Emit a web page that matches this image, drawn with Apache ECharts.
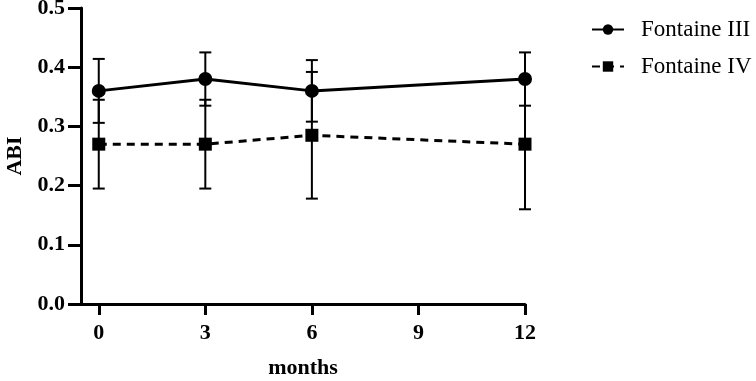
<!DOCTYPE html>
<html>
<head>
<meta charset="utf-8">
<script src="https://cdn.jsdelivr.net/npm/echarts@6/dist/echarts.min.js"></script>
<style>
  html, body { margin: 0; padding: 0; background: #fff; }
  #chart { width: 756px; height: 381px; }
</style>
</head>
<body>
<div id="chart"></div>
<script>
// data
const months = [0, 3, 6, 12];
const xTicks = [0, 3, 6, 9, 12];

const f3Mean = [0.36, 0.38, 0.36, 0.38];
const f3Err = [0.054, 0.045, 0.052, 0.045];

const f4Mean = [0.27, 0.27, 0.285, 0.27];
const f4Err = [0.075, 0.075, 0.107, 0.11];

const serif = 'Liberation Serif';

function errRows(mean, err) {
    return months.map((m, i) => [m, mean[i] - err[i], mean[i] + err[i]]);
}

function renderErr(params, api) {
    const x = api.value(0);
    const lo = api.coord([x, api.value(1)]);
    const hi = api.coord([x, api.value(2)]);
    const hw = 6;
    const style = { stroke: '#000', lineWidth: 2 };
    return {
        type: 'group',
        children: [
            { type: 'line', shape: { x1: hi[0], y1: hi[1], x2: lo[0], y2: lo[1] }, style: style },
            { type: 'line', shape: { x1: hi[0] - hw, y1: hi[1], x2: hi[0] + hw, y2: hi[1] }, style: style },
            { type: 'line', shape: { x1: lo[0] - hw, y1: lo[1], x2: lo[0] + hw, y2: lo[1] }, style: style }
        ]
    };
}

const chart = echarts.init(document.getElementById('chart'));

const option = {
    animation: false,
    backgroundColor: '#fff',
    grid: { left: 81, right: 231, top: 8, bottom: 77, outerBoundsMode: 'none', containLabel: false },
    legend: {
        orient: 'vertical',
        left: 591,
        top: 18,
        itemGap: 14,
        itemWidth: 32,
        itemHeight: 13,
        padding: 0,
        data: ['Fontaine III', 'Fontaine IV'],
        textStyle: { fontFamily: serif, fontSize: 23, color: '#000', padding: [0, 0, 0, 12] }
    },
    xAxis: {
        type: 'value',
        min: -0.5,
        max: 12,
        name: 'months',
        nameLocation: 'middle',
        nameGap: 53,
        nameTextStyle: { fontFamily: serif, fontWeight: 'bold', fontSize: 22, color: '#000' },
        axisLine: { onZero: false, lineStyle: { color: '#000', width: 3 } },
        axisTick: { customValues: xTicks, length: 11, lineStyle: { color: '#000', width: 3 } },
        axisLabel: { customValues: xTicks, margin: 18, fontFamily: serif, fontWeight: 'bold', fontSize: 22, color: '#000' },
        splitLine: { show: false }
    },
    yAxis: {
        type: 'value',
        min: 0,
        max: 0.5,
        interval: 0.1,
        name: 'ABI',
        nameLocation: 'middle',
        nameGap: 55,
        nameTextStyle: { fontFamily: serif, fontWeight: 'bold', fontSize: 22, color: '#000' },
        axisLine: { show: true, onZero: false, lineStyle: { color: '#000', width: 3 } },
        axisTick: { show: true, length: 13, lineStyle: { color: '#000', width: 3 } },
        axisLabel: {
            margin: 16,
            fontFamily: serif, fontWeight: 'bold', fontSize: 22, color: '#000',
            formatter: v => v.toFixed(1)
        },
        splitLine: { show: false }
    },
    series: [
        {
            name: 'Fontaine III err',
            type: 'custom',
            renderItem: renderErr,
            data: errRows(f3Mean, f3Err),
            z: 1
        },
        {
            name: 'Fontaine IV err',
            type: 'custom',
            renderItem: renderErr,
            data: errRows(f4Mean, f4Err),
            z: 1
        },
        {
            name: 'Fontaine III',
            type: 'line',
            data: months.map((m, i) => [m, f3Mean[i]]),
            symbol: 'circle',
            symbolSize: 14,
            itemStyle: { color: '#000' },
            lineStyle: { color: '#000', width: 3 },
            z: 3
        },
        {
            name: 'Fontaine IV',
            type: 'line',
            data: months.map((m, i) => [m, f4Mean[i]]),
            symbol: 'rect',
            symbolSize: 13,
            itemStyle: { color: '#000' },
            lineStyle: { color: '#000', width: 3, type: [8, 6] },
            z: 3
        }
    ]
};

chart.setOption(option);
</script>
</body>
</html>
